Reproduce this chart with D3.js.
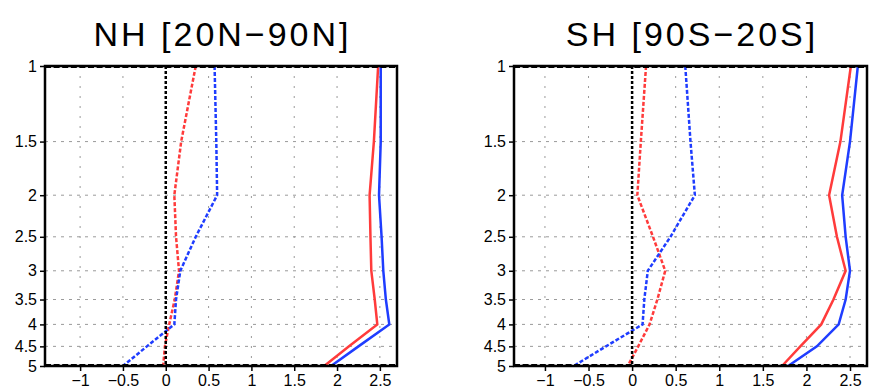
<!DOCTYPE html>
<html>
<head>
<meta charset="utf-8">
<script src="https://cdn.jsdelivr.net/npm/d3@7"></script>
<style>
  body { margin: 0; background: #fff; }
  svg { display: block; }
</style>
</head>
<body>
<svg id="chart" width="871" height="390"></svg>
<script>
// pressure-like levels (log axis, 1 at top)
const levels = [1, 1.5, 2, 2.5, 3, 3.5, 4, 4.5, 5];
const yTicks = [1, 1.5, 2, 2.5, 3, 3.5, 4, 4.5, 5];
const xTicks = [-1, -0.5, 0, 0.5, 1, 1.5, 2, 2.5];
const titles = ["NH [20N\u221290N]", "SH [90S\u221220S]"];

// NH values
const nhRedSolid  = [2.48, 2.43, 2.38, 2.39, 2.40, 2.44, 2.47, 2.14, 1.85];
const nhBlueSolid = [2.51, 2.51, 2.49, 2.52, 2.54, 2.57, 2.61, 2.25, 1.93];
const nhRedDash   = [0.35, 0.18, 0.10, 0.12, 0.155, 0.105, 0.04, -0.01, -0.03];
const nhBlueDash  = [0.57, 0.59, 0.60, 0.35, 0.17, 0.12, 0.10, -0.22, -0.50];

// SH values
const shRedSolid  = [2.51, 2.39, 2.26, 2.35, 2.45, 2.31, 2.17, 1.93, 1.72];
const shBlueSolid = [2.59, 2.50, 2.41, 2.45, 2.50, 2.45, 2.37, 2.12, 1.79];
const shRedDash   = [0.16, 0.10, 0.06, 0.24, 0.38, 0.29, 0.20, 0.07, -0.05];
const shBlueDash  = [0.61, 0.67, 0.72, 0.44, 0.18, 0.14, 0.12, -0.30, -0.67];

const zeroLine = [0, 0, 0, 0, 0, 0, 0, 0, 0];

const panels = [
  { left: 45, right: 397, xDomain: [-1.41, 2.70],
    series: [nhRedSolid, nhBlueSolid, nhRedDash, nhBlueDash, zeroLine] },
  { left: 514, right: 867, xDomain: [-1.355, 2.695],
    series: [shRedSolid, shBlueSolid, shRedDash, shBlueDash, zeroLine] }
];

const styles = [
  { color: "#ff3b3b", dash: null },
  { color: "#1f3dff", dash: null },
  { color: "#ff3b3b", dash: "4,2" },
  { color: "#1f3dff", dash: "4,2" },
  { color: "#000", dash: "3,2" }
];

const plotTop = 66, plotBottom = 366;
const svg = d3.select("#chart");
const fmt = d => d < 0 ? "\u2212" + Math.abs(d) : String(d);

panels.forEach((p, i) => {
  const x = d3.scaleLinear().domain(p.xDomain).range([p.left, p.right]);
  const y = d3.scaleLog().domain([1, 5]).range([plotTop, plotBottom]);
  const g = svg.append("g");

  // grid
  g.selectAll(".vgrid").data(xTicks).enter().append("line")
    .attr("x1", d => x(d)).attr("x2", d => x(d))
    .attr("y1", plotTop).attr("y2", plotBottom)
    .attr("stroke", "#9a9a9a").attr("stroke-width", 1)
    .attr("stroke-dasharray", "2,8");
  g.selectAll(".hgrid").data(yTicks.slice(1, -1)).enter().append("line")
    .attr("x1", p.left).attr("x2", p.right)
    .attr("y1", d => y(d)).attr("y2", d => y(d))
    .attr("stroke", "#9a9a9a").attr("stroke-width", 1)
    .attr("stroke-dasharray", "3,5");

  // lines
  const line = d3.line().x(d => x(d[0])).y(d => y(d[1]));
  p.series.forEach((s, k) => {
    const pts = s.map((v, j) => [v, levels[j]]);
    g.append("path")
      .attr("d", line(pts))
      .attr("fill", "none")
      .attr("stroke", styles[k].color)
      .attr("stroke-width", 2.5)
      .attr("stroke-dasharray", styles[k].dash);
  });

  // frame
  g.append("rect")
    .attr("x", p.left).attr("y", plotTop)
    .attr("width", p.right - p.left).attr("height", plotBottom - plotTop)
    .attr("fill", "none").attr("stroke", "#000").attr("stroke-width", 2.5);
  // dashed top/bottom edge texture
  [plotTop + 1, plotBottom - 1].forEach(yy => {
    g.append("line")
      .attr("x1", p.left).attr("x2", p.right)
      .attr("y1", yy).attr("y2", yy)
      .attr("stroke", "#000").attr("stroke-width", 2)
      .attr("stroke-dasharray", "6,2.6");
  });

  // axes
  const xAxis = d3.axisBottom(x).tickValues(xTicks).tickSize(5).tickFormat(fmt);
  const xg = g.append("g").attr("transform", `translate(0,${plotBottom})`).call(xAxis);
  xg.select(".domain").remove();
  xg.selectAll("line").attr("stroke-width", 1.5);
  xg.selectAll("text").attr("font-size", 16).attr("dy", "0.75em")
    .attr("font-family", "Liberation Sans, Arial, sans-serif").attr("fill", "#000");

  const yAxis = d3.axisLeft(y).tickValues(yTicks).tickSize(5).tickFormat(d => String(d));
  const yg = g.append("g").attr("transform", `translate(${p.left},0)`).call(yAxis);
  yg.select(".domain").remove();
  yg.selectAll("line").attr("stroke-width", 1.5);
  yg.selectAll("text").attr("font-size", 16)
    .attr("font-family", "Liberation Sans, Arial, sans-serif").attr("fill", "#000");

  // title
  svg.append("text")
    .attr("x", (p.left + p.right) / 2 + 1.5).attr("y", 46)
    .attr("text-anchor", "middle")
    .attr("font-size", 34)
    .attr("letter-spacing", 3)
    .attr("font-family", "Liberation Sans, Arial, sans-serif")
    .text(titles[i]);
});
</script>
</body>
</html>
